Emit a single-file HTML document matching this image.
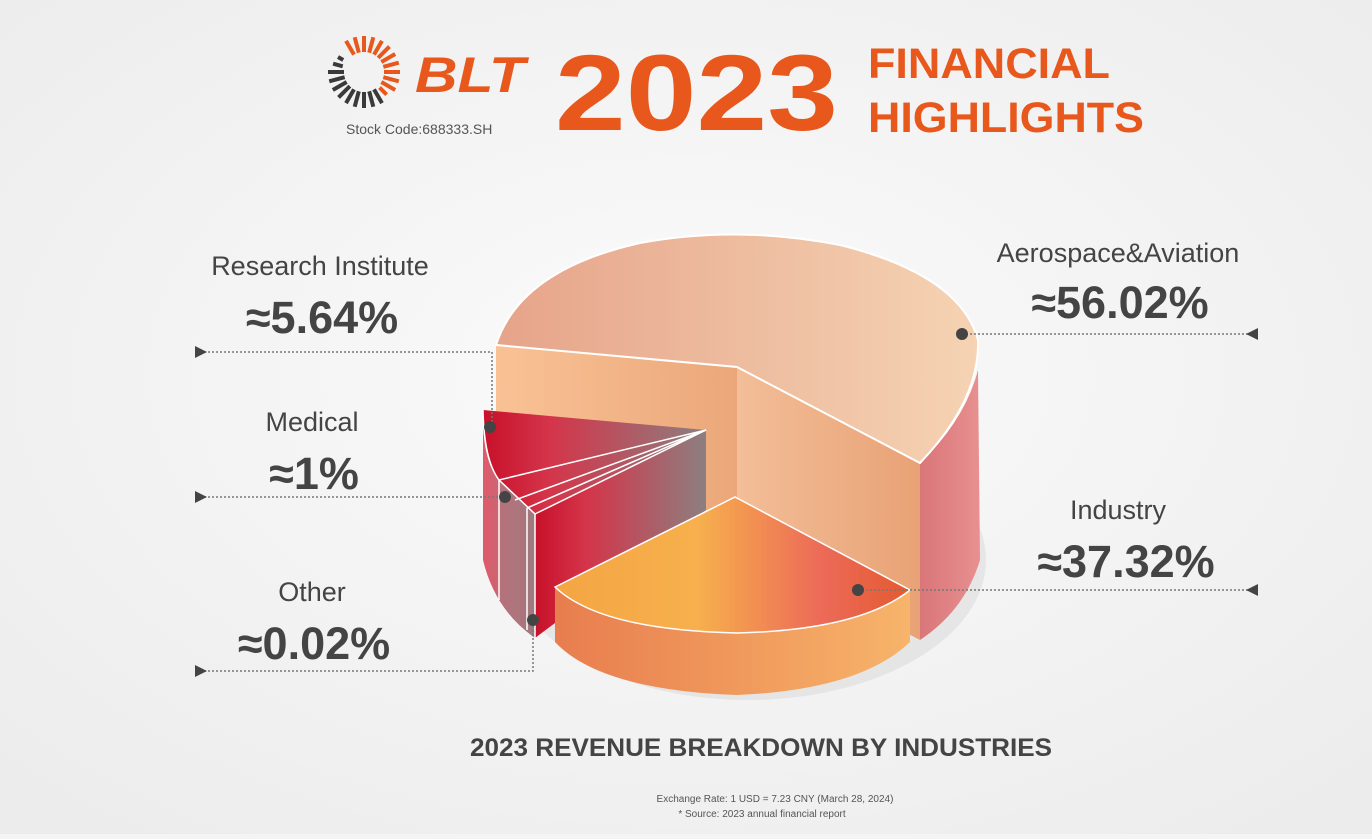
<!DOCTYPE html>
<html><head><meta charset="utf-8"><style>
html,body{margin:0;padding:0;}
body{width:1372px;height:834px;overflow:hidden;background:#f4f4f4;font-family:"Liberation Sans",sans-serif;}
</style></head><body>
<svg width="1372" height="834" viewBox="0 0 1372 834" xmlns="http://www.w3.org/2000/svg">
<defs>
<radialGradient id="bg" cx="0.5" cy="0.45" r="0.7"><stop offset="0" stop-color="#fbfbfb"/><stop offset="1" stop-color="#ececec"/></radialGradient>
<linearGradient id="topA" x1="0" x2="1"><stop offset="0" stop-color="#e6a48a"/><stop offset="1" stop-color="#f5d3b3"/></linearGradient>
<linearGradient id="wallA" x1="0" x2="1"><stop offset="0" stop-color="#f9c295"/><stop offset="1" stop-color="#eba77a"/></linearGradient>
<linearGradient id="wallA2" x1="0" x2="1"><stop offset="0" stop-color="#f3be98"/><stop offset="1" stop-color="#e8a275"/></linearGradient>
<linearGradient id="sideA" x1="0" x2="1"><stop offset="0" stop-color="#d9767a"/><stop offset="1" stop-color="#e89090"/></linearGradient>
<linearGradient id="topI" x1="0" x2="1"><stop offset="0" stop-color="#f4a543"/><stop offset="0.4" stop-color="#f7b04d"/><stop offset="0.75" stop-color="#ec6a58"/><stop offset="1" stop-color="#e45a30"/></linearGradient>
<linearGradient id="wallI" x1="0" x2="1"><stop offset="0" stop-color="#e87d4e"/><stop offset="1" stop-color="#f7b46a"/></linearGradient>
<linearGradient id="topR" x1="0" x2="1"><stop offset="0" stop-color="#c8102a"/><stop offset="0.3" stop-color="#d4354a"/><stop offset="1" stop-color="#8c7f80"/></linearGradient>
<linearGradient id="sideR" x1="0" x2="1"><stop offset="0" stop-color="#e05a6c"/><stop offset="1" stop-color="#9a7c80"/></linearGradient>
</defs>
<rect width="1372" height="834" fill="url(#bg)"/>
<!-- logo -->
<g transform="translate(364,72)" stroke-width="4" stroke-linecap="butt">
<g stroke="#e8581c">
<line x1="0" y1="-20" x2="0" y2="-36" transform="rotate(-30)"/><line x1="0" y1="-20" x2="0" y2="-36" transform="rotate(-15)"/><line x1="0" y1="-20" x2="0" y2="-36"/><line x1="0" y1="-20" x2="0" y2="-36" transform="rotate(15)"/><line x1="0" y1="-20" x2="0" y2="-36" transform="rotate(30)"/><line x1="0" y1="-20" x2="0" y2="-36" transform="rotate(45)"/><line x1="0" y1="-20" x2="0" y2="-36" transform="rotate(60)"/><line x1="0" y1="-20" x2="0" y2="-36" transform="rotate(75)"/><line x1="0" y1="-20" x2="0" y2="-36" transform="rotate(90)"/><line x1="0" y1="-20" x2="0" y2="-36" transform="rotate(105)"/><line x1="0" y1="-20" x2="0" y2="-36" transform="rotate(120)"/><line x1="0" y1="-22" x2="0" y2="-32" transform="rotate(135)"/>
</g>
<g stroke="#3a3a3a">
<line x1="0" y1="-20" x2="0" y2="-36" transform="rotate(150)"/><line x1="0" y1="-20" x2="0" y2="-36" transform="rotate(165)"/><line x1="0" y1="-20" x2="0" y2="-36" transform="rotate(180)"/><line x1="0" y1="-20" x2="0" y2="-36" transform="rotate(195)"/><line x1="0" y1="-20" x2="0" y2="-36" transform="rotate(210)"/><line x1="0" y1="-20" x2="0" y2="-36" transform="rotate(225)"/><line x1="0" y1="-20" x2="0" y2="-36" transform="rotate(240)"/><line x1="0" y1="-20" x2="0" y2="-36" transform="rotate(255)"/><line x1="0" y1="-20" x2="0" y2="-36" transform="rotate(270)"/><line x1="0" y1="-22" x2="0" y2="-32" transform="rotate(285)"/><line x1="0" y1="-24" x2="0" y2="-30" transform="rotate(300)"/>
</g></g>
<text x="415" y="92" font-size="50" font-weight="bold" font-style="italic" fill="#e8581c" textLength="110" lengthAdjust="spacingAndGlyphs">BLT</text>
<text x="346" y="134" font-size="14" fill="#555">Stock Code:688333.SH</text>
<text x="555" y="130" font-size="108" font-weight="bold" fill="#e8581c" textLength="283" lengthAdjust="spacingAndGlyphs">2023</text>
<text x="868" y="78" font-size="43" font-weight="bold" fill="#e8581c" textLength="242" lengthAdjust="spacingAndGlyphs">FINANCIAL</text>
<text x="868" y="132" font-size="43" font-weight="bold" fill="#e8581c" textLength="276" lengthAdjust="spacingAndGlyphs">HIGHLIGHTS</text>

<!-- pie -->
<ellipse cx="748" cy="560" rx="238" ry="140" fill="#d8d8d8" opacity="0.5"/>
<path d="M920,463 Q965,420 978,370 L980,560 Q965,610 920,640 Z" fill="url(#sideA)"/>
<path d="M496,345 L737,367 L737,545 L496,520 Z" fill="url(#wallA)"/>
<path d="M737,367 L920,463 L920,640 L737,545 Z" fill="url(#wallA2)"/>
<path d="M496,345 Q520,270 640,243 Q737,225 840,245 Q960,275 978,340 Q980,400 920,463 L737,367 Z" fill="url(#topA)" stroke="#fff" stroke-width="2"/>
<!-- red slices -->
<path d="M483,410 Q482,460 499,480 L535,514 L535,638 Q495,610 483,560 Z" fill="url(#sideR)"/>
<path d="M499,480 L499,600 L520,625 L520,500 Z" fill="#a87a80" opacity="0.6"/>
<path d="M535,514 L706,430 L706,510 L535,638 Z" fill="url(#topR)"/>
<path d="M483,410 L706,430 L535,514 L499,480 Q484,460 483,410 Z" fill="url(#topR)"/>
<g stroke="#fff" stroke-width="1.5" fill="none">
<path d="M483,410 Q484,460 499,480 L535,514 L535,638"/>
<line x1="499" y1="480" x2="706" y2="430"/><line x1="515" y1="500" x2="706" y2="430"/><line x1="527" y1="508" x2="706" y2="430"/><line x1="535" y1="514" x2="706" y2="430"/>
<line x1="499" y1="480" x2="499" y2="600"/><line x1="527" y1="508" x2="527" y2="630"/>
</g>
<!-- industry (in front) -->
<path d="M555,587 L555,642 Q600,690 737,695 Q860,690 910,642 L910,590 Q860,630 737,633 Q600,630 555,587 Z" fill="url(#wallI)"/>
<path d="M555,587 L735,497 L910,590 Q860,630 737,633 Q600,630 555,587 Z" fill="url(#topI)" stroke="#fff" stroke-width="1.5"/>

<!-- leader lines -->
<g stroke="#777" stroke-width="1.5" stroke-dasharray="2,2" fill="none">
<polyline points="200,352 492,352 492,425"/>
<line x1="200" y1="497" x2="505" y2="497"/>
<polyline points="200,671 533,671 533,620"/>
<line x1="962" y1="334" x2="1250" y2="334"/>
<line x1="858" y1="590" x2="1250" y2="590"/>
</g>
<g fill="#444">
<path d="M195,346 L207,352 L195,358 Z"/><path d="M195,491 L207,497 L195,503 Z"/><path d="M195,665 L207,671 L195,677 Z"/>
<path d="M1258,328 L1246,334 L1258,340 Z"/><path d="M1258,584 L1246,590 L1258,596 Z"/>
<circle cx="490" cy="427" r="6"/><circle cx="505" cy="497" r="6"/><circle cx="533" cy="620" r="6"/>
<circle cx="962" cy="334" r="6"/><circle cx="858" cy="590" r="6"/>
</g>

<g fill="#444" text-anchor="middle">
<text x="320" y="275" font-size="27">Research Institute</text>
<text x="322" y="333" font-size="45" font-weight="bold">≈5.64%</text>
<text x="312" y="431" font-size="27">Medical</text>
<text x="314" y="489" font-size="45" font-weight="bold">≈1%</text>
<text x="312" y="601" font-size="27">Other</text>
<text x="314" y="659" font-size="45" font-weight="bold">≈0.02%</text>
<text x="1118" y="262" font-size="27">Aerospace&amp;Aviation</text>
<text x="1120" y="318" font-size="45" font-weight="bold">≈56.02%</text>
<text x="1118" y="519" font-size="27">Industry</text>
<text x="1126" y="577" font-size="45" font-weight="bold">≈37.32%</text>
<text x="761" y="756" font-size="25" font-weight="bold" textLength="582" lengthAdjust="spacingAndGlyphs">2023 REVENUE BREAKDOWN BY INDUSTRIES</text>
<text x="775" y="802" font-size="10" fill="#555">Exchange Rate: 1 USD = 7.23 CNY (March 28, 2024)</text>
<text x="762" y="817" font-size="10" fill="#555">*  Source: 2023 annual financial report</text>
</g>
</svg>
</body></html>
